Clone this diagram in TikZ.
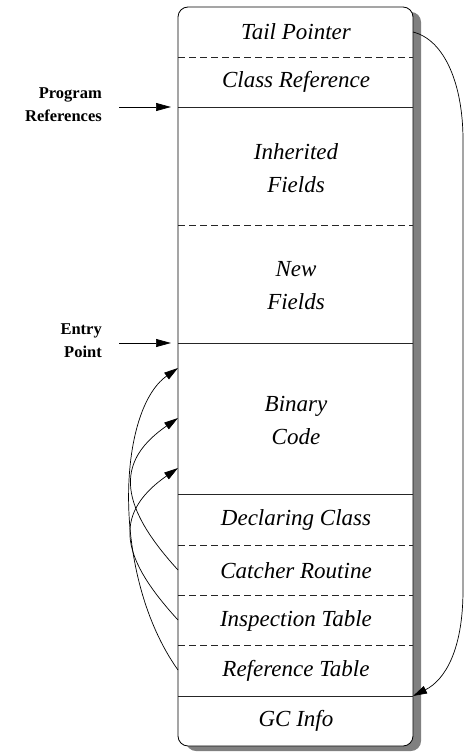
\documentclass[tikz,border=0pt]{standalone}
\usepackage{fontspec}
\setmainfont{Liberation Serif}
\usetikzlibrary{arrows.meta}
\definecolor{shadowgray}{RGB}{128,128,128}
\begin{document}
\begin{tikzpicture}[x=1pt,y=-1pt,
  cell/.style={font=\fontsize{23}{33}\selectfont\itshape, align=center, inner sep=0pt},
  lbl/.style={font=\fontsize{16.5}{23}\selectfont\bfseries, align=right, inner sep=0pt, anchor=east},
  sepline/.style={line width=0.8pt, black!85},
  dsepline/.style={sepline, dash pattern=on 7pt off 4pt},
  arr/.style={line width=0.7pt, -{Triangle[length=15pt,width=8pt]}},
  curv/.style={line width=0.7pt, -{Triangle[length=14pt,width=8pt]}}]
\useasboundingbox (0,0) rectangle (465,752);
% shadow and box
\fill[shadowgray, rounded corners=10pt] (186,12) rectangle (421,751);
\draw[fill=white, line width=0.8pt, rounded corners=10pt] (178,7) rectangle (413,746);
% separators
\draw[dsepline] (178,57) -- (413,57);
\draw[sepline] (178,107) -- (413,107);
\draw[dsepline] (178,225) -- (413,225);
\draw[sepline] (178,343) -- (413,343);
\draw[sepline] (178,494) -- (413,494);
\draw[dsepline] (178,545) -- (413,545);
\draw[dsepline] (178,595) -- (413,595);
\draw[dsepline] (178,645) -- (413,645);
\draw[sepline] (178,696) -- (413,696);
% cell texts
\node[cell] (tail) at (296,32) {Tail Pointer};
\node[cell] (classref) at (296,82) {Class Reference};
\node[cell] (inh) at (296,168) {Inherited\\Fields};
\node[cell] (new) at (296,286) {New\\Fields};
\node[cell] (bin) at (296,420) {Binary\\Code};
\node[cell] (decl) at (296,520) {Declaring Class};
\node[cell] (catch) at (296,571) {Catcher Routine};
\node[cell] (insp) at (296,621) {Inspection Table};
\node[cell] (reft) at (296,671) {Reference Table};
\node[cell] (gc) at (296,721) {GC Info};
% left labels
\node[lbl] (progref) at (102,105) {Program\\References};
\node[lbl] (entry) at (102,341) {Entry\\Point};
% attachment coordinates
\coordinate (progA) at (119,107);
\coordinate (progB) at (171,107);
\coordinate (entA) at (119,343);
\coordinate (entB) at (171,343);
\coordinate (catchL) at (178,570);
\coordinate (inspL) at (178,620);
\coordinate (reftL) at (178,670);
\coordinate (binA) at (178,368);
\coordinate (binB) at (178,418);
\coordinate (binC) at (178,468);
\coordinate (tailR) at (413,32);
\coordinate (gcR) at (413,696);
% arrows
\draw[arr] (progA) -- (progB);
\draw[arr] (entA) -- (entB);
\draw[curv] (catchL) .. controls (114,500) and (119,459) .. (binB);
\draw[curv] (inspL) .. controls (124,561) and (109,516) .. (binC);
\draw[curv] (reftL) .. controls (111,576) and (117,411) .. (binA);
\draw[curv] (tailR) .. controls (445,40) and (463,85) .. (463,140) -- (463,590) .. controls (463,650) and (445,680) .. (gcR);
\end{tikzpicture}
\end{document}
